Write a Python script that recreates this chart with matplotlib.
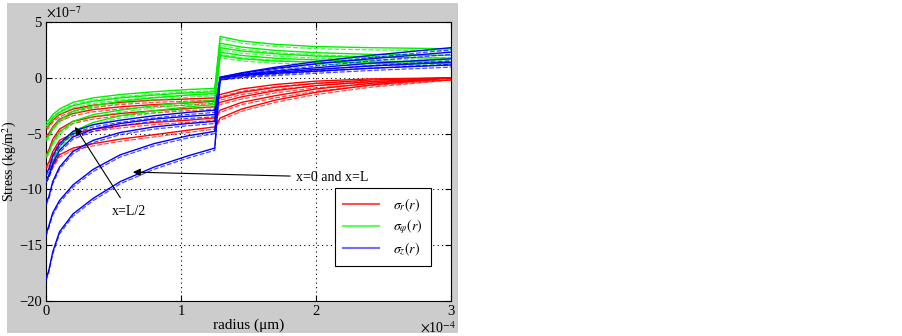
import matplotlib.pyplot as plt
from matplotlib.patches import Rectangle
from matplotlib import transforms

plt.rcParams["font.family"] = ["Liberation Serif", "DejaVu Serif"]
plt.rcParams["mathtext.fontset"] = "stix"

# radius in units of 1e-4, stress in units of 1e-7
r_core = [0, 0.02, 0.05, 0.1, 0.2, 0.35, 0.55, 0.8, 1.05, 1.25]
r_clad = [1.29, 1.45, 1.7, 2.0, 2.4, 3.0]

red_core = [
    [-4.5, -4.3, -3.8, -3.3, -2.8, -2.45, -2.2, -2.0, -1.9, -1.8],
    [-5.2, -5.0, -4.4, -3.7, -3.2, -2.85, -2.6, -2.4, -2.25, -2.1],
    [-6.9, -6.5, -5.5, -4.6, -3.9, -3.5, -3.2, -2.95, -2.75, -2.6],
    [-8.0, -7.6, -6.6, -5.6, -5.0, -4.6, -4.3, -4.0, -3.8, -3.6],
    [-9.2, -8.8, -7.9, -6.9, -6.3, -5.9, -5.5, -5.1, -4.7, -4.4],
]
red_clad = [
    [-1.5, -1.0, -0.6, -0.3, -0.1, 0.0],
    [-1.8, -1.3, -0.85, -0.5, -0.2, 0.0],
    [-2.2, -1.7, -1.15, -0.7, -0.35, 0.0],
    [-2.9, -2.2, -1.6, -1.0, -0.5, 0.0],
    [-3.6, -2.8, -2.0, -1.3, -0.65, 0.0],
]
green_core = [
    [-4.0, -3.8, -3.3, -2.8, -2.2, -1.8, -1.5, -1.25, -1.05, -0.95],
    [-4.3, -4.1, -3.6, -3.1, -2.5, -2.1, -1.8, -1.55, -1.35, -1.25],
    [-5.5, -5.2, -4.5, -3.8, -3.0, -2.5, -2.1, -1.8, -1.55, -1.4],
    [-7.0, -6.7, -5.8, -4.9, -3.9, -3.3, -2.9, -2.5, -2.2, -2.0],
    [-9.2, -8.8, -7.5, -6.2, -4.8, -4.0, -3.4, -2.95, -2.6, -2.4],
]
green_clad = [
    [3.7, 3.3, 3.0, 2.8, 2.7, 2.6],
    [3.1, 2.75, 2.45, 2.25, 2.1, 2.0],
    [2.7, 2.4, 2.15, 1.95, 1.85, 1.75],
    [2.3, 2.0, 1.75, 1.6, 1.5, 1.4],
    [2.0, 1.7, 1.5, 1.4, 1.33, 1.3],
]
blue_core = [
    [-8.6, -8.2, -7.0, -5.9, -4.8, -4.2, -3.8, -3.4, -3.1, -2.9],
    [-9.2, -8.8, -7.7, -6.5, -5.3, -4.6, -4.1, -3.7, -3.45, -3.3],
    [-11.2, -10.7, -9.3, -8.0, -6.6, -5.6, -4.9, -4.4, -4.1, -3.9],
    [-14.0, -13.3, -12.1, -11.0, -9.6, -8.2, -6.9, -5.9, -5.2, -4.8],
    [-18.0, -17.3, -15.6, -13.8, -12.2, -10.8, -9.3, -8.0, -7.0, -6.3],
]
blue_clad = [
    [0.05, 0.45, 0.95, 1.45, 2.0, 2.7],
    [0.05, 0.4, 0.85, 1.25, 1.7, 2.3],
    [0.0, 0.3, 0.6, 0.9, 1.3, 1.7],
    [0.0, 0.25, 0.5, 0.75, 1.05, 1.4],
    [0.0, 0.2, 0.4, 0.6, 0.85, 1.15],
]

W, H = 902, 336
fig = plt.figure(figsize=(W / 100, H / 100), dpi=100)
fig.patch.set_facecolor("white")
fig.patches.append(Rectangle((7 / W, 3 / H), 451 / W, 330 / H, transform=fig.transFigure,
                             facecolor="#cccccc", edgecolor="none", zorder=-10))

ax = fig.add_axes([46 / W, 35 / H, 405 / W, 279 / H])
ax.set_facecolor("white")

r_all = r_core + r_clad
sets = [(red_core, red_clad, "#ff0000"), (green_core, green_clad, "#00f000"),
        (blue_core, blue_clad, "#0000ff")]
shift = transforms.offset_copy(ax.transData, fig=fig, x=0, y=-2.2, units="dots")
for core, clad, col in sets:
    for c1, c2 in zip(core, clad):
        y = c1 + c2
        ax.plot(r_all, y, color=col, lw=1.0, zorder=3)
        ax.plot(r_all, y, color=col, lw=0.9, ls=(0, (4, 1.5)), alpha=0.7,
                transform=shift, zorder=3)

ax.set_xlim(0, 3)
ax.set_ylim(-20, 5)
ax.set_xticks([0, 1, 2, 3])
ax.set_yticks([-20, -15, -10, -5, 0, 5])
ax.grid(True, color="black", ls=(0, (1, 3)), lw=0.8)
ax.tick_params(direction="in", top=True, right=True, labelsize=10.5, length=4, pad=3)
for s in ax.spines.values():
    s.set_linewidth(0.8)

ax.text(0.0, 1.005, r"$\times$10$^{-7}$", transform=ax.transAxes, fontsize=10,
        ha="left", va="bottom")
ax.text(1.012, -0.068, r"$\times$10$^{-4}$", transform=ax.transAxes, fontsize=10,
        ha="right", va="top")
ax.set_xlabel("radius (μm)", fontsize=11)
ax.xaxis.set_label_coords(0.5, -0.062)
ax.set_ylabel("Stress (kg/m$^2$)", fontsize=10)
ax.yaxis.set_label_coords(-0.067, 0.5)

ax.annotate("x=0 and x=L", xy=(0.644, -8.45), xytext=(1.85, -8.9), fontsize=10,
            ha="left", va="center",
            arrowprops=dict(arrowstyle="-|>", color="black", lw=0.8, mutation_scale=11,
                            shrinkB=0))
ax.annotate("x=L/2", xy=(0.215, -4.4), xytext=(0.49, -12.0), fontsize=10,
            ha="left", va="center",
            arrowprops=dict(arrowstyle="-|>", color="black", lw=0.8, mutation_scale=11,
                            shrinkB=0, shrinkA=4))

h1, = ax.plot([], [], color="#ff5050", lw=1.5)
h2, = ax.plot([], [], color="#60ff60", lw=1.5)
h3, = ax.plot([], [], color="#7070ff", lw=1.5)
leg = ax.legend([h1, h2, h3], [r"$\sigma_r(r)$", r"$\sigma_\varphi(r)$", r"$\sigma_z(r)$"],
                loc="lower right", bbox_to_anchor=(0.951, 0.125), borderaxespad=0,
                fontsize=10, fancybox=False, framealpha=1, edgecolor="black",
                handlelength=2.6, borderpad=0.6, labelspacing=0.3, handletextpad=1.0)
leg.get_frame().set_linewidth(0.8)

fig.savefig("out.png", dpi=100)
